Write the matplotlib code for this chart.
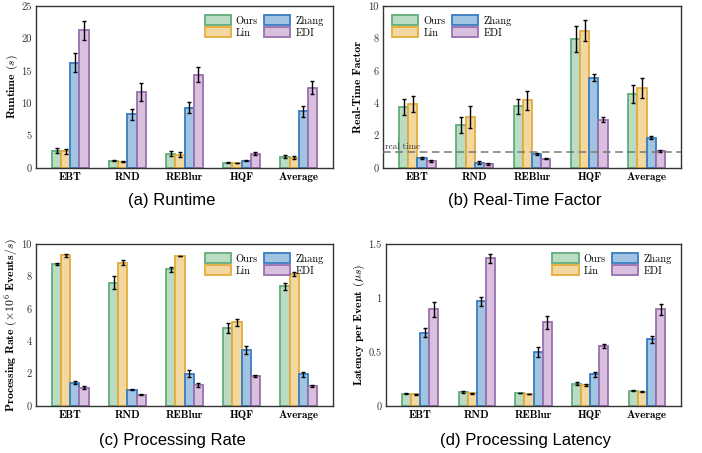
import numpy as np
import matplotlib
matplotlib.use("Agg")
import matplotlib.pyplot as plt

plt.rcParams['font.family'] = 'serif'
plt.rcParams['font.serif'] = ['cmr10']
plt.rcParams['mathtext.fontset'] = 'cm'
plt.rcParams['axes.formatter.use_mathtext'] = True

categories = ["EBT", "RND", "REBlur", "HQF", "Average"]
methods = ["Ours", "Lin", "Zhang", "EDI"]

# (a) Runtime
runtime = {
    "Ours":  [2.67, 1.13, 2.20, 0.82, 1.75],
    "Lin":   [2.55, 0.98, 2.05, 0.77, 1.60],
    "Zhang": [16.25, 8.28, 9.30, 1.13, 8.75],
    "EDI":   [21.25, 11.73, 14.40, 2.20, 12.40],
}
runtime_err = {
    "Ours":  [0.35, 0.08, 0.35, 0.05, 0.2],
    "Lin":   [0.35, 0.08, 0.35, 0.05, 0.2],
    "Zhang": [1.5, 0.8, 0.85, 0.1, 0.85],
    "EDI":   [1.45, 1.45, 1.2, 0.2, 1.05],
}
# (b) Real-time factor
rtf = {
    "Ours":  [3.77, 2.67, 3.80, 7.96, 4.55],
    "Lin":   [3.97, 3.15, 4.18, 8.48, 4.94],
    "Zhang": [0.62, 0.33, 0.88, 5.58, 1.87],
    "EDI":   [0.45, 0.25, 0.58, 2.98, 1.05],
}
rtf_err = {
    "Ours":  [0.48, 0.48, 0.48, 0.82, 0.56],
    "Lin":   [0.50, 0.70, 0.58, 0.66, 0.62],
    "Zhang": [0.07, 0.08, 0.07, 0.22, 0.10],
    "EDI":   [0.05, 0.06, 0.04, 0.17, 0.07],
}
# (c) Processing rate
rate = {
    "Ours":  [8.78, 7.60, 8.45, 4.83, 7.40],
    "Lin":   [9.30, 8.84, 9.26, 5.16, 8.14],
    "Zhang": [1.45, 1.01, 2.00, 3.43, 1.96],
    "EDI":   [1.12, 0.70, 1.30, 1.84, 1.24],
}
rate_err = {
    "Ours":  [0.05, 0.40, 0.15, 0.32, 0.22],
    "Lin":   [0.08, 0.15, 0.03, 0.20, 0.12],
    "Zhang": [0.08, 0.05, 0.20, 0.25, 0.15],
    "EDI":   [0.10, 0.03, 0.12, 0.05, 0.07],
}
# (d) Latency
latency = {
    "Ours":  [0.115, 0.133, 0.121, 0.208, 0.143],
    "Lin":   [0.108, 0.118, 0.112, 0.198, 0.133],
    "Zhang": [0.680, 0.970, 0.502, 0.294, 0.617],
    "EDI":   [0.895, 1.367, 0.775, 0.555, 0.895],
}
latency_err = {
    "Ours":  [0.003, 0.008, 0.003, 0.015, 0.005],
    "Lin":   [0.003, 0.004, 0.003, 0.010, 0.004],
    "Zhang": [0.040, 0.040, 0.045, 0.025, 0.030],
    "EDI":   [0.070, 0.040, 0.060, 0.015, 0.050],
}

fills = {"Ours": "#b9dcc2", "Lin": "#f3d7a0", "Zhang": "#a0c4e2", "EDI": "#d8c0de"}
edges = {"Ours": "#62ad7c", "Lin": "#e4ac3c", "Zhang": "#3a7cc0", "EDI": "#9a6fae"}

fig = plt.figure(figsize=(7.02, 4.53), dpi=100)
W, H = 702, 453
boxes = [(36, 6, 333, 168), (383, 6, 681, 168), (36, 244, 333, 406), (386, 244, 681, 406)]
axes = [fig.add_axes([l / W, 1 - b / H, (r - l) / W, (b - t) / H]) for (l, t, r, b) in boxes]

datasets = [(runtime, runtime_err, 25, [0, 5, 10, 15, 20, 25], ["0", "5", "10", "15", "20", "25"],
             r"$\mathbf{Runtime}$ $(s)$", "upper right", "(a) Runtime"),
            (rtf, rtf_err, 10, [0, 2, 4, 6, 8, 10], ["0", "2", "4", "6", "8", "10"],
             "Real-Time Factor", "upper left", "(b) Real-Time Factor"),
            (rate, rate_err, 10, [0, 2, 4, 6, 8, 10], ["0", "2", "4", "6", "8", "10"],
             r"$\mathbf{Processing\ Rate}$ $(\times10^6$ $\mathbf{Events}/s)$", "upper right", "(c) Processing Rate"),
            (latency, latency_err, 1.5, [0, 0.5, 1, 1.5], ["0", "0.5", "1", "1.5"],
             r"$\mathbf{Latency\ per\ Event}$ $(\mu s)$", "upper right", "(d) Processing Latency")]

x = np.arange(len(categories))
width = 0.16
offsets = [-1.5, -0.5, 0.5, 1.5]
captions_xy = [(172, 200), (525, 200), (172, 440), (525, 440)]

for i, (ax, (vals, errs, ymax, yt, ytl, ylab, loc, cap)) in enumerate(zip(axes, datasets)):
    for m, off in zip(methods, offsets):
        ax.bar(x + off * width, vals[m], width, color=fills[m], edgecolor=edges[m],
               linewidth=1.3, label=m, zorder=2)
        ax.errorbar(x + off * width, vals[m], yerr=errs[m], fmt='none', ecolor='black',
                    elinewidth=1.0, capsize=1.5, capthick=1.0, zorder=3)
    ax.set_xlim(-0.6, 4.6)
    ax.set_ylim(0, ymax)
    ax.set_yticks(yt)
    ax.set_yticklabels(ytl, fontsize=7.5, color='#333333')
    ax.set_xticks(x)
    ax.set_xticklabels(categories, fontsize=8, fontfamily='cmb10')
    ax.tick_params(axis='both', length=0, pad=3)
    for s in ax.spines.values():
        s.set_color('#333333')
        s.set_linewidth(1.0)
    if i == 1:
        ax.set_ylabel(ylab, fontsize=8.5, fontfamily='cmb10', labelpad=4)
        ax.axhline(1.0, color='#777777', linestyle=(0, (5, 3)), linewidth=1.1, zorder=4)
        ax.text(-0.57, 1.15, "real time", fontsize=6.5, color='#333333', zorder=5)
    else:
        ax.set_ylabel(ylab, fontsize=8.5, labelpad=1)
    ax.legend(loc=loc, ncol=2, fontsize=7.5, frameon=False, handlelength=2.5,
              handleheight=1.1, columnspacing=0.6, handletextpad=0.5, labelspacing=0.15,
              borderaxespad=0.5)
    cx, cy = captions_xy[i]
    fig.text(cx / W, 1 - cy / H, cap, fontsize=12, fontfamily='Liberation Sans',
             ha='center', va='center')

fig.savefig("out.png", dpi=100)
